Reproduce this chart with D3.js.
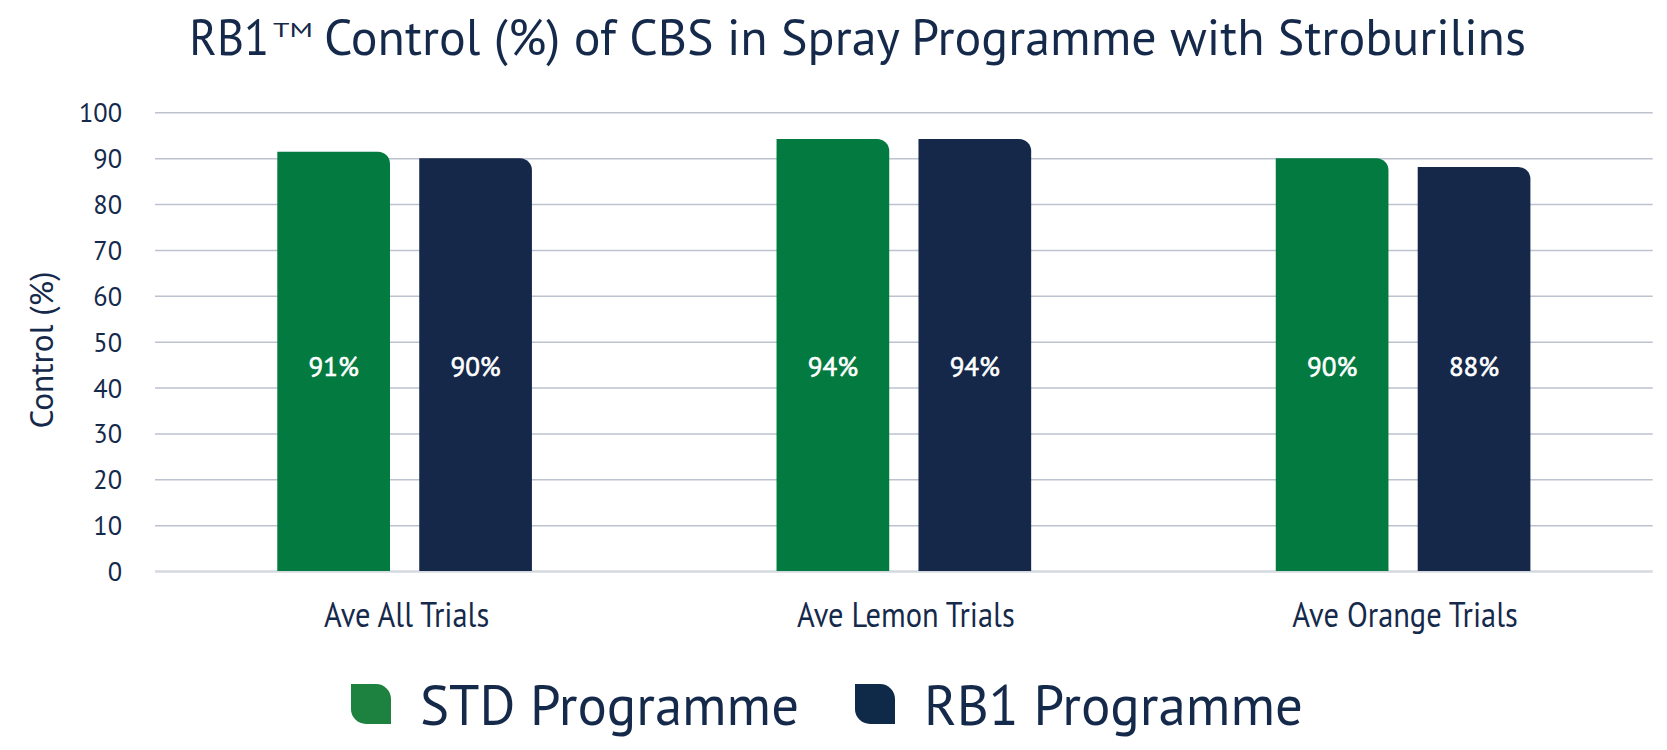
<!DOCTYPE html>
<html>
<head>
<meta charset="utf-8">
<script src="https://cdn.jsdelivr.net/npm/d3@7"></script>
<style>
  html, body { margin: 0; padding: 0; background: #ffffff; }
  svg { display: block; }
  text { font-family: "PT Sans", "Open Sans", "Noto Sans", sans-serif; }
</style>
</head>
<body>
<svg id="chart" width="1667" height="750"></svg>
<script>
// ---- data ----
const categories = ["Ave All Trials", "Ave Lemon Trials", "Ave Orange Trials"];
const series = ["STD Programme", "RB1 Programme"];
const stdValues = [91.4, 94.2, 90.0];
const rb1Values = [90.0, 94.2, 88.1];
const yTicks = [0, 10, 20, 30, 40, 50, 60, 70, 80, 90, 100];
const titleMain = "RB1";
const titleSup = "TM";
const titleRest = "Control (%) of CBS in Spray Programme with Stroburilins";
const yAxisTitle = "Control (%)";

// ---- styles ----
const textColor = "#15294b";
const barColors = ["#027a40", "#15284a"];
const legendColors = ["#1d8240", "#0f2a48"];
const gridColor = "#bcc3ce";
const baseColor = "#d4d8df";

const svg = d3.select("#chart");
const plot = { left: 155, right: 1652.7, top: 112.3, bottom: 571 };

const x0 = d3.scaleBand().domain(categories).range([plot.left, plot.right]).padding(0);
const groupInset = 122.3;
const x1 = d3.scaleBand().domain(series)
  .range([groupInset, x0.bandwidth() - groupInset]).paddingInner(0.206);
const y = d3.scaleLinear().domain([0, 100]).range([plot.bottom, plot.top]);

const table = categories.map((c, i) => ({
  category: c,
  values: [
    { series: series[0], value: stdValues[i], idx: 0 },
    { series: series[1], value: rb1Values[i], idx: 1 }
  ]
}));

function condense(sel, factor) {
  sel.each(function () {
    const len = this.getComputedTextLength();
    d3.select(this).attr("textLength", len * factor).attr("lengthAdjust", "spacingAndGlyphs");
  });
}
function fitWidth(sel, width) {
  sel.attr("textLength", width).attr("lengthAdjust", "spacingAndGlyphs");
}

// ---- gridlines (y axis) ----
const yAxis = d3.axisLeft(y).tickValues(yTicks).tickSize(-(plot.right - plot.left)).tickPadding(33);
const gy = svg.append("g").attr("transform", `translate(${plot.left},0)`).call(yAxis);
gy.select(".domain").remove();
gy.selectAll(".tick line")
  .attr("stroke", d => d === 0 ? baseColor : gridColor)
  .attr("stroke-width", d => d === 0 ? 2.5 : 1.5);
gy.selectAll(".tick text")
  .attr("fill", textColor)
  .attr("font-size", 28)
  .attr("dy", "0.34em")
  .style("font-family", '"PT Sans", "Open Sans", "Noto Sans", sans-serif');
gy.selectAll(".tick text").call(condense, 0.94);

// ---- bars ----
const r = 12;
function barPath(x, w, yTop, yBase) {
  return `M${x},${yBase}V${yTop}H${x + w - r}A${r},${r} 0 0 1 ${x + w},${yTop + r}V${yBase}Z`;
}
const groups = svg.append("g").selectAll("g.group").data(table).join("g")
  .attr("class", "group")
  .attr("transform", d => `translate(${x0(d.category)},0)`);

groups.selectAll("path.bar").data(d => d.values).join("path")
  .attr("class", "bar")
  .attr("fill", d => barColors[d.idx])
  .attr("d", d => barPath(x1(d.series), x1.bandwidth(), y(d.value), y(0)));

const labelLevel = 44.6;
groups.selectAll("text.val").data(d => d.values).join("text")
  .attr("class", "val")
  .attr("x", d => x1(d.series) + x1.bandwidth() / 2)
  .attr("y", y(labelLevel))
  .attr("dy", "0.35em")
  .attr("text-anchor", "middle")
  .attr("fill", "#ffffff")
  .attr("stroke", "#ffffff")
  .attr("stroke-width", 0.6)
  .attr("font-size", 27)
  .attr("font-weight", 400)
  .text(d => Math.round(d.value) + "%");

// ---- x axis labels ----
const xl = svg.append("g").selectAll("text.xl").data(categories).join("text")
  .attr("class", "xl")
  .attr("x", d => x0(d) + x0.bandwidth() / 2 + 2)
  .attr("y", 626.5)
  .attr("text-anchor", "middle")
  .attr("fill", textColor)
  .attr("font-size", 34)
  .text(d => d);
xl.call(condense, 0.895);

// ---- y axis title ----
const yt = svg.append("text")
  .attr("transform", "translate(53,350) rotate(-90)")
  .attr("text-anchor", "middle")
  .attr("fill", textColor)
  .attr("font-size", 32)
  .text(yAxisTitle);
fitWidth(yt, 157);

// ---- title (one text element with tspans) ----
const title = svg.append("text").attr("fill", textColor).attr("font-size", 50)
  .attr("x", 189.3).attr("y", 55);
title.append("tspan").text(titleMain).call(fitWidth, 80);
title.append("tspan").attr("x", 273).attr("y", 37).attr("font-size", 19).text(titleSup).call(fitWidth, 40);
title.append("tspan").attr("x", 324).attr("y", 55).text(titleRest).call(fitWidth, 1202);

// ---- legend ----
const lr = 15;
function leafPath(x, yy, s) {
  return `M${x},${yy}H${x + s - lr}A${lr},${lr} 0 0 1 ${x + s},${yy + lr}V${yy + s}H${x + lr}A${lr},${lr} 0 0 1 ${x},${yy + s - lr}Z`;
}
const legendX = [351, 855];
const lg = svg.append("g").selectAll("g.leg").data(series).join("g").attr("class", "leg");
lg.append("path")
  .attr("fill", (d, i) => legendColors[i])
  .attr("d", (d, i) => leafPath(legendX[i], 684, 40));
lg.append("text")
  .attr("x", (d, i) => legendX[i] + 69)
  .attr("y", 725)
  .attr("fill", textColor)
  .attr("font-size", 56)
  .text(d => d)
  .call(fitWidth, 379);
</script>
</body>
</html>
